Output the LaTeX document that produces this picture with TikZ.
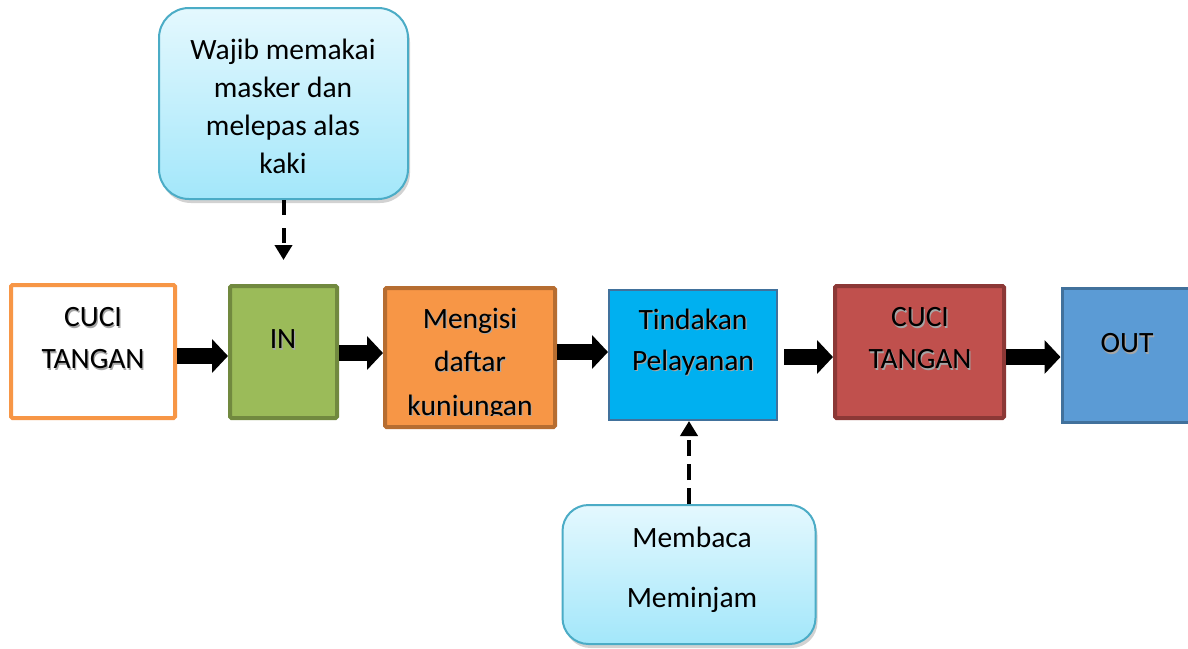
\documentclass[tikz,border=0pt]{standalone}
\usepackage{fontspec}
\setmainfont{Carlito}
\usetikzlibrary{arrows.meta,shadows}

\definecolor{orangeA}{HTML}{F79646}
\definecolor{orangeB}{HTML}{B66D31}
\definecolor{greenF}{HTML}{9BBB59}
\definecolor{greenB}{HTML}{71893F}
\definecolor{cyanF}{HTML}{00B0F0}
\definecolor{steelB}{HTML}{41719C}
\definecolor{redF}{HTML}{C0504D}
\definecolor{redB}{HTML}{8C3836}
\definecolor{outF}{HTML}{5B9BD5}
\definecolor{noteTop}{HTML}{E4F8FE}
\definecolor{noteBot}{HTML}{A3E7FA}
\definecolor{noteB}{HTML}{4BACC6}

% one line of text with a soft grey shadow behind it
\newcommand\shd[1]{\rlap{\kern1.2pt\raisebox{-1.2pt}{\textcolor{black!35}{#1}}}#1}

\begin{document}
\begin{tikzpicture}[x=1pt,y=-1pt,
  stepbox/.style={draw, rounded corners=1.5pt, line width=4pt, inner sep=0pt},
  label/.style={align=center, inner sep=0pt, font=\fontsize{29.5}{42}\selectfont},
  note/.style={draw=noteB, line width=2pt, top color=noteTop, bottom color=noteBot,
    inner sep=0pt, drop shadow={opacity=0.35, shadow xshift=2pt, shadow yshift=-4pt}},
  blk/.style={line width=16pt, -{Triangle[length=16pt, width=33pt]}},
  dsh/.style={line width=4pt, dash pattern=on 15pt off 13pt, -{Triangle[length=15pt, width=17pt]}}
]
\clip (0,0) rectangle (1188,648);
\fill[white] (0,0) rectangle (1188,648);

% process boxes
\node[stepbox, draw=orangeA, fill=white, minimum width=164pt, minimum height=133pt] (b1) at (93,351.5) {};
\node[stepbox, draw=greenB, fill=greenF, minimum width=107pt, minimum height=132pt] (b2) at (283.5,352) {};
\node[stepbox, draw=orangeB, fill=orangeA, minimum width=170pt, minimum height=139pt] (b3) at (470,357.5) {};
\node[stepbox, draw=steelB, fill=cyanF, line width=2pt, rounded corners=0pt, minimum width=168pt, minimum height=130pt] (b4) at (693,355) {};
\node[stepbox, draw=redB, fill=redF, minimum width=169pt, minimum height=132pt] (b5) at (919.5,352) {};
\node[stepbox, draw=steelB, fill=outF, line width=3pt, rounded corners=0pt, minimum width=170pt, minimum height=134pt] (b6) at (1147,355.5) {};

% box labels
\node[label] (t1) at (93,339) {\shd{CUCI}\\\shd{TANGAN}};
\node[label] (t2) at (283,340) {\shd{IN}};
\begin{scope}
  \clip (385,288) rectangle (555,415);
  \node[label, font=\fontsize{29.5}{43.5}\selectfont] (t3) at (470,364.5) {\shd{Mengisi}\\\shd{daftar}\\\shd{kunjungan}};
\end{scope}
\node[label, font=\fontsize{29.5}{41}\selectfont] (t4) at (693,343) {\shd{Tindakan}\\\shd{Pelayanan}};
\node[label] (t5) at (920,339) {\shd{CUCI}\\\shd{TANGAN}};
\node[label] (t6) at (1127,344) {\shd{OUT}};

% flow arrows
\draw[blk] ([yshift=-4.5pt]b1.east) -- ([yshift=-4pt]b2.west);
\draw[blk] ([yshift=-1pt]b2.east) -- ([yshift=4.5pt]b3.west);
\draw[blk] ([yshift=5.5pt]b3.east) -- ([yshift=3pt]b4.west);
\draw[blk, shorten <=6pt] ([yshift=-2pt]b4.east) -- ([yshift=-5pt]b5.west);
\draw[blk] ([yshift=-5pt]b5.east) -- ([yshift=-1.5pt]b6.west);

% notes
\node[note, rounded corners=30pt, minimum width=249pt, minimum height=191pt] (c1) at (283.5,103.5) {};
\node[label, font=\fontsize{29.5}{38}\selectfont] (n1) at (283,106.5) {Wajib memakai\\masker dan\\melepas alas\\kaki};
\node[note, rounded corners=26pt, minimum width=253pt, minimum height=139pt] (c2) at (689,574.5) {};
\node[label, font=\fontsize{29.5}{60}\selectfont] (n2) at (692,570) {Membaca\\Meminjam};

% dashed connectors
\coordinate (p1) at ([yshift=24pt]b2.north);
\draw[dsh] (c1.south) -- (c1.south |- p1);
\draw[dsh, dash pattern=on 16pt off 8pt] (c2.north) -- (c2.north |- b4.south);
\end{tikzpicture}
\end{document}
